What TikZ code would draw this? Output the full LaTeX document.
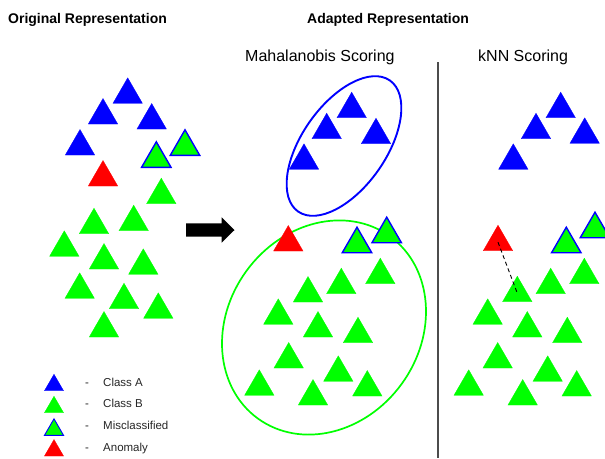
\documentclass[tikz,border=0pt]{standalone}
\usepackage{fontspec}
\setmainfont{Liberation Sans}
\usetikzlibrary{shapes.geometric}

\definecolor{clsblue}{RGB}{0,0,255}
\definecolor{clsgreen}{RGB}{0,255,0}
\definecolor{clsred}{RGB}{255,0,0}

\tikzset{
  tri/.style={regular polygon, regular polygon sides=3, minimum size=34pt,
              inner sep=0pt, outer sep=0pt},
  classA/.style={tri, fill=clsblue, draw=clsblue, line width=0.3pt},
  classB/.style={tri, fill=clsgreen, draw=clsgreen, line width=0.3pt},
  misc/.style={tri, fill=clsgreen, draw=clsblue, line width=1.4pt},
  anomaly/.style={tri, fill=clsred, draw=clsred, line width=0.3pt},
  small/.style={minimum size=22pt},
  title/.style={font=\fontsize{14}{16}\selectfont\bfseries, anchor=base west, inner sep=0pt},
  subtitle/.style={font=\fontsize{16}{18}\selectfont, anchor=base west, inner sep=0pt},
  legtext/.style={font=\fontsize{11.5}{13}\selectfont, text=black!85, anchor=base west, inner sep=0pt},
}

\begin{document}
\begin{tikzpicture}[x=1pt, y=-1pt]
    \useasboundingbox (0,0) rectangle (605,458);

    % Headings
    \node[title]    (orig)  at (8,23)    {Original Representation};
    \node[title]    (adapt) at (307,23)  {Adapted Representation};
    \node[subtitle] (maha)  at (245,61)  {Mahalanobis Scoring};
    \node[subtitle] (knn)   at (478,61)  {kNN Scoring};

    % Separator
    \coordinate (septop) at (438,62);
    \coordinate (sepbot) at (438,458);
    \draw[black!70, line width=1.1pt] (septop) -- (sepbot);

    % Cluster ellipses
    \draw[clsblue, line width=1.9pt, rotate around={55:(344,146)}]
         (344,146) ellipse [x radius=80, y radius=42];
    \draw[clsgreen, line width=1.7pt, rotate around={54:(324,327.5)}]
         (324,327.5) ellipse [x radius=112.5, y radius=96];

    % Original representation
    \foreach \px/\py [count=\i] in {127.7/94.8, 103/115.5, 151.7/120.5, 80/146.5}
      \node[classA] (oA\i) at (\px,\py) {};
    \foreach \px/\py [count=\i] in {161.3/195.2, 94/225.2, 133.7/222.2, 64.3/247.8,
        104/260.5, 143.3/265.8, 79.7/289.8, 124/300.2, 158.3/309.8, 104/328.5}
      \node[classB] (oB\i) at (\px,\py) {};
    \node[misc]    (oM1) at (156.3,158.8) {};
    \node[misc]    (oM2) at (185,146.8)   {};
    \node[anomaly] (oX)  at (103,177.5)   {};

    % Arrow between the representations
    \fill[black] (186,223.3) -- (221.7,223.3) -- (221.7,217.3) -- (234.5,230)
                 -- (221.7,242.7) -- (221.7,236.7) -- (186,236.7) -- cycle;

    % Mahalanobis scoring
    \foreach \px/\py [count=\i] in {351.7/109.2, 326.7/130.2, 376/135.2, 304/160.8}
      \node[classA] (mA\i) at (\px,\py) {};
    \foreach \px/\py [count=\i] in {380.3/275.2, 341.3/285.2, 308/293.5, 278.3/315.8,
        318/328.5, 358/334.2, 288.7/359.5, 338.3/372.8, 259.3/386.8, 313/396.5, 367.3/387.5}
      \node[classB] (mB\i) at (\px,\py) {};
    \node[misc]    (mM1) at (357,244.2)   {};
    \node[misc]    (mM2) at (386.7,234.2) {};
    \node[anomaly] (mX)  at (288.3,242.5) {};

    % kNN scoring
    \foreach \px/\py [count=\i] in {560.7/109.2, 536/130.2, 584.7/134.8, 513.3/160.8}
      \node[classA] (kA\i) at (\px,\py) {};
    \foreach \px/\py [count=\i] in {584.3/275.2, 550.7/285.2, 517.3/293.2, 487.7/315.8,
        527.3/328.5, 567.3/334.2, 497.7/359.5, 547.7/372.8, 468.7/386.8, 522.7/396.5, 576.7/387.5}
      \node[classB] (kB\i) at (\px,\py) {};
    \node[misc]    (kM1) at (566.3,244.2) {};
    \node[misc]    (kM2) at (595,229.2)   {};
    \node[anomaly] (kX)  at (498,242.2)   {};

    % Nearest neighbour distance
    \draw[black, line width=0.9pt, dash pattern=on 4pt off 3pt] (kX.center) -- (kB3.center);

    % Legend
    \node[classA, small]  (legA) at (54,385.2) {};
    \node[classB, small]  (legB) at (54,407.2) {};
    \node[misc, small, line width=0.9pt] (legM) at (54,429.8) {};
    \node[anomaly, small] (legX) at (54,450.5) {};

    \node[legtext] (dashA) at (85,386)   {-};
    \node[legtext] (dashB) at (85,407)   {-};
    \node[legtext] (dashM) at (85,429.5) {-};
    \node[legtext] (dashX) at (85,451)   {-};

    \node[legtext] (txtA) at (103,386)   {Class A};
    \node[legtext] (txtB) at (103,407)   {Class B};
    \node[legtext] (txtM) at (103,429.5) {Misclassified};
    \node[legtext] (txtX) at (103,451)   {Anomaly};

\end{tikzpicture}
\end{document}
